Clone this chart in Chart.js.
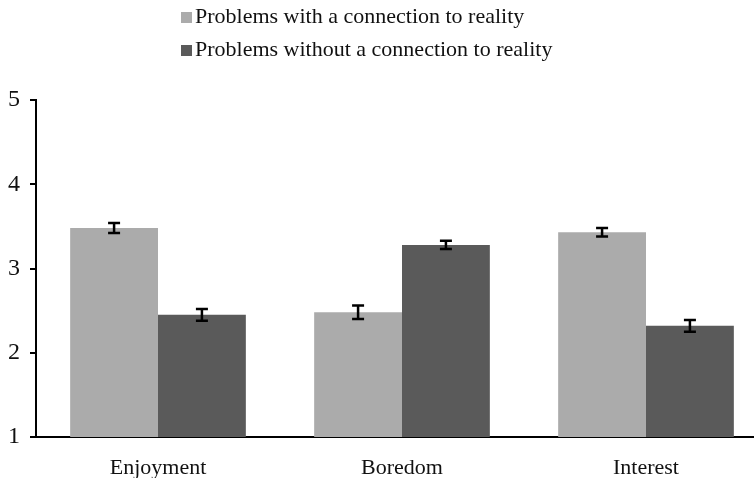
<!DOCTYPE html>
<html lang="en">
<head>
    <meta charset="UTF-8">
    <title>Reality connection chart</title>
    <script src="https://cdn.jsdelivr.net/npm/chart.js"></script>
    <style>
        body { margin: 0; background: #fff; overflow: hidden; }
        #wrap { width: 754px; height: 478px; overflow: hidden; }
    </style>
</head>
<body>
    <div id="wrap"><canvas id="chart" width="768" height="478"></canvas></div>

    <script>
        // Data
        const categories = ['Enjoyment', 'Boredom', 'Interest'];
        const seriesNames = ['Problems with a connection to reality', 'Problems without a connection to reality'];
        const withReality = [3.48, 2.48, 3.43];
        const withoutReality = [2.45, 3.28, 2.32];
        const withErr = [0.06, 0.08, 0.05];
        const withoutErr = [0.07, 0.05, 0.07];
        const yTicks = [1, 2, 3, 4, 5];

        const lightGray = '#ababab';
        const darkGray = '#5a5a5a';
        const serif = '"Liberation Serif", "Times New Roman", serif';

        // error bars drawn from the scales
        const errorBars = {
            id: 'errorBars',
            afterDatasetsDraw(chart) {
                const ctx = chart.ctx;
                const y = chart.scales.y;
                const errs = [withErr, withoutErr];
                ctx.save();
                ctx.strokeStyle = '#000';
                ctx.lineWidth = 2.5;
                chart.data.datasets.forEach((ds, i) => {
                    const meta = chart.getDatasetMeta(i);
                    meta.data.forEach((bar, j) => {
                        const v = ds.data[j];
                        const top = y.getPixelForValue(v + errs[i][j]);
                        const bot = y.getPixelForValue(v - errs[i][j]);
                        const x = bar.x;
                        ctx.beginPath();
                        ctx.moveTo(x, top); ctx.lineTo(x, bot);
                        ctx.moveTo(x - 6, top); ctx.lineTo(x + 6, top);
                        ctx.moveTo(x - 6, bot); ctx.lineTo(x + 6, bot);
                        ctx.stroke();
                    });
                });
                ctx.restore();
            }
        };

        // two-row legend at the top
        const topLegend = {
            id: 'topLegend',
            afterDraw(chart) {
                const ctx = chart.ctx;
                const colors = [lightGray, darkGray];
                ctx.save();
                ctx.font = '22px ' + serif;
                ctx.textBaseline = 'middle';
                seriesNames.forEach((name, i) => {
                    const cy = 17 + i * 33;
                    ctx.fillStyle = colors[i];
                    ctx.fillRect(181, cy - 5, 11, 11);
                    ctx.fillStyle = '#111';
                    ctx.fillText(name, 195, cy);
                });
                ctx.restore();
            }
        };

        new Chart(document.getElementById('chart'), {
            type: 'bar',
            data: {
                labels: categories,
                datasets: [
                    { label: seriesNames[0], data: withReality, backgroundColor: lightGray },
                    { label: seriesNames[1], data: withoutReality, backgroundColor: darkGray }
                ]
            },
            options: {
                responsive: false,
                animation: false,
                layout: { padding: { top: 100, right: 0, left: 0, bottom: 0 } },
                plugins: { legend: { display: false }, tooltip: { enabled: false } },
                datasets: { bar: { categoryPercentage: 0.72, barPercentage: 1.0 } },
                scales: {
                    x: {
                        grid: { display: false },
                        border: { color: '#000', width: 2 },
                        ticks: { color: '#111', font: { family: serif, size: 22 }, padding: 10 },
                        afterFit(scale) { scale.height = 41; }
                    },
                    y: {
                        min: 1, max: 5,
                        afterBuildTicks(scale) { scale.ticks = yTicks.map(v => ({ value: v })); },
                        grid: { drawOnChartArea: false, color: '#000', tickLength: 6, lineWidth: 2 },
                        border: { color: '#000', width: 2 },
                        ticks: { color: '#111', font: { family: serif, size: 24 }, padding: 10 },
                        afterFit(scale) { scale.width = 36; }
                    }
                }
            },
            plugins: [errorBars, topLegend]
        });
    </script>
</body>
</html>
